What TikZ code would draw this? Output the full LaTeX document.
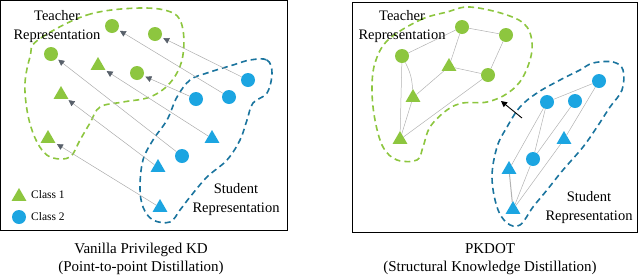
\documentclass[tikz,border=0pt]{standalone}
\usepackage{fontspec}
\setmainfont{Liberation Serif}
\usetikzlibrary{arrows.meta,shapes.geometric}
\definecolor{tgreen}{RGB}{141,198,63}
\definecolor{sblue}{RGB}{28,165,225}
\definecolor{sdash}{RGB}{26,116,158}
\definecolor{agray}{RGB}{88,96,106}
\begin{document}
\begin{tikzpicture}[x=1pt,y=-1pt,
  gc/.style={circle,fill=tgreen,minimum size=14pt,inner sep=0pt},
  bc/.style={circle,fill=sblue,minimum size=14pt,inner sep=0pt},
  gt/.style={regular polygon,regular polygon sides=3,fill=tgreen,minimum size=17pt,inner sep=0pt,yshift=-1.5pt},
  bt/.style={regular polygon,regular polygon sides=3,fill=sblue,minimum size=17pt,inner sep=0pt,yshift=-1.5pt},
  distarrow/.style={draw=gray!65,line width=0.5pt,-{Triangle[length=6pt,width=6pt,color=agray]},shorten >=2pt},
  edgeline/.style={draw=gray!60,line width=0.5pt},
  tregion/.style={draw=tgreen,line width=1.6pt,dash pattern=on 6pt off 4pt},
  sregion/.style={draw=sdash,line width=1.6pt,dash pattern=on 6pt off 4pt},
  lbl/.style={font=\fontsize{14.5}{19}\selectfont,align=center,inner sep=0pt},
  captxt/.style={font=\fontsize{15}{18}\selectfont,align=center,inner sep=0pt},
  legtxt/.style={font=\fontsize{11.5}{14}\selectfont,anchor=west,inner sep=0pt},
  panelframe/.style={draw=black,line width=0.9pt}]
\useasboundingbox (0,0) rectangle (640,274);
% frames
\draw[panelframe] (0.5,0.5) rectangle (287,230);
\draw[panelframe] (352,2) rectangle (637,232);

% ---------- left panel ----------
\draw[tregion] plot[smooth cycle,tension=0.6] coordinates {(38,40) (87,15) (140,8) (173,13) (183,30) (182,60) (170,83) (150,97) (123,102) (100,107) (90,123) (80,140) (70,157) (53,158) (42,150) (33,133) (27,110) (25,83) (30,57)};
\draw[sregion] plot[smooth cycle,tension=0.6] coordinates {(250,60) (267,60) (272,73) (267,93) (253,103) (247,120) (240,140) (227,160) (207,177) (190,197) (180,210) (170,222) (153,220) (143,207) (140,187) (143,160) (153,140) (167,120) (177,97) (190,80) (207,73) (233,65)};

\node[gc] (ltc1) at (112,26) {};
\node[gc] (ltc2) at (155,34) {};
\node[gc] (ltc3) at (51,54) {};
\node[gc] (ltc4) at (137,73) {};
\node[gt] (ltt1) at (98,64) {};
\node[gt] (ltt2) at (61,93) {};
\node[gt] (ltt3) at (48,137) {};
\node[bc] (lsc1) at (248,80) {};
\node[bc] (lsc2) at (229,97) {};
\node[bc] (lsc3) at (196,99) {};
\node[bc] (lsc4) at (182,156) {};
\node[bt] (lst1) at (212,137) {};
\node[bt] (lst2) at (158,166) {};
\node[bt] (lst3) at (160,206) {};

\draw[distarrow] (lsc1) -- (ltc2);
\draw[distarrow] (lsc2) -- (ltc1);
\draw[distarrow] (lsc3) -- (ltc4);
\draw[distarrow] (lst1) -- (ltt1);
\draw[distarrow] (lsc4) -- (ltc3);
\draw[distarrow] (lst2) -- (ltt2);
\draw[distarrow] (lst3) -- (ltt3);

\node[lbl] (lteach) at (57,26.5) {Teacher\\Representation};
\node[lbl] (lstud) at (236,199.5) {Student\\Representation};

\node[gt] (leg1) at (19,195) {};
\node[legtxt] (leg1t) at (31,195) {Class 1};
\node[bc] (leg2) at (19,217) {};
\node[legtxt] (leg2t) at (31,217) {Class 2};

% ---------- right panel ----------
\draw[tregion] plot[smooth cycle,tension=0.6] coordinates {(388,40) (420,20) (447,12) (470,7) (507,15) (527,27) (532,50) (523,77) (508,93) (487,102) (463,103) (447,110) (430,127) (423,147) (417,160) (397,160) (383,147) (375,120) (372,90) (375,63)};
\draw[sregion] plot[smooth cycle,tension=0.6] coordinates {(593,63) (613,62) (623,70) (622,90) (610,107) (597,127) (583,147) (563,170) (547,190) (533,207) (520,225) (507,223) (497,207) (492,177) (497,147) (507,127) (520,107) (537,93) (560,80) (580,70)};

\node[gc] (rtc1) at (402,56) {};
\node[gc] (rtc2) at (462,27) {};
\node[gc] (rtc3) at (506,35) {};
\node[gc] (rtc4) at (488,75) {};
\node[gt] (rtt1) at (449,65) {};
\node[gt] (rtt2) at (413,96) {};
\node[gt] (rtt3) at (400,138) {};
\node[bc] (rsc1) at (599,81) {};
\node[bc] (rsc2) at (547,102) {};
\node[bc] (rsc3) at (575,101) {};
\node[bc] (rsc4) at (533,159) {};
\node[bt] (rst1) at (564,138) {};
\node[bt] (rst2) at (509,168) {};
\node[bt] (rst3) at (513,208) {};

\draw[edgeline] (rtc1) -- (rtc2);
\draw[edgeline] (rtc2) -- (rtc3);
\draw[edgeline] (rtc2) -- (rtt1);
\draw[edgeline] (rtt1) -- (rtc4);
\draw[edgeline] (rtc3) -- (rtc4);
\draw[edgeline] (rtc1) to[bend left=12] (rtt2);
\draw[edgeline] (rtc1) -- (rtt3);
\draw[edgeline] (rtt1) -- (rtt2);
\draw[edgeline] (rtt2) -- (rtt3);
\draw[edgeline] (rtc4) -- (rtt3);

\draw[edgeline] (rsc1) -- (rsc2);
\draw[edgeline] (rsc1) -- (rst1);
\draw[edgeline] (rsc2) -- (rst2);
\draw[edgeline] (rsc2) -- (rsc4);
\draw[edgeline] (rsc3) -- (rsc4);
\draw[edgeline] (rst1) -- (rst3);
\draw[edgeline] (rsc4) -- (rst3);
\draw[edgeline,line width=1pt] (rst2) -- (rst3);

\coordinate (arrA) at (522,118);
\coordinate (arrB) at (501,101);
\draw[black,line width=0.9pt,-{Triangle[length=6pt,width=6pt]}] (arrA) -- (arrB);

\node[lbl] (rteach) at (402,26.5) {Teacher\\Representation};
\node[lbl] (rstud) at (589,207.5) {Student\\Representation};

% captions
\node[captxt] (lcap) at (141,259) {Vanilla Privileged KD\\(Point-to-point Distillation)};
\node[captxt] (rcap) at (490,259) {PKDOT\\(Structural Knowledge Distillation)};
\end{tikzpicture}
\end{document}
